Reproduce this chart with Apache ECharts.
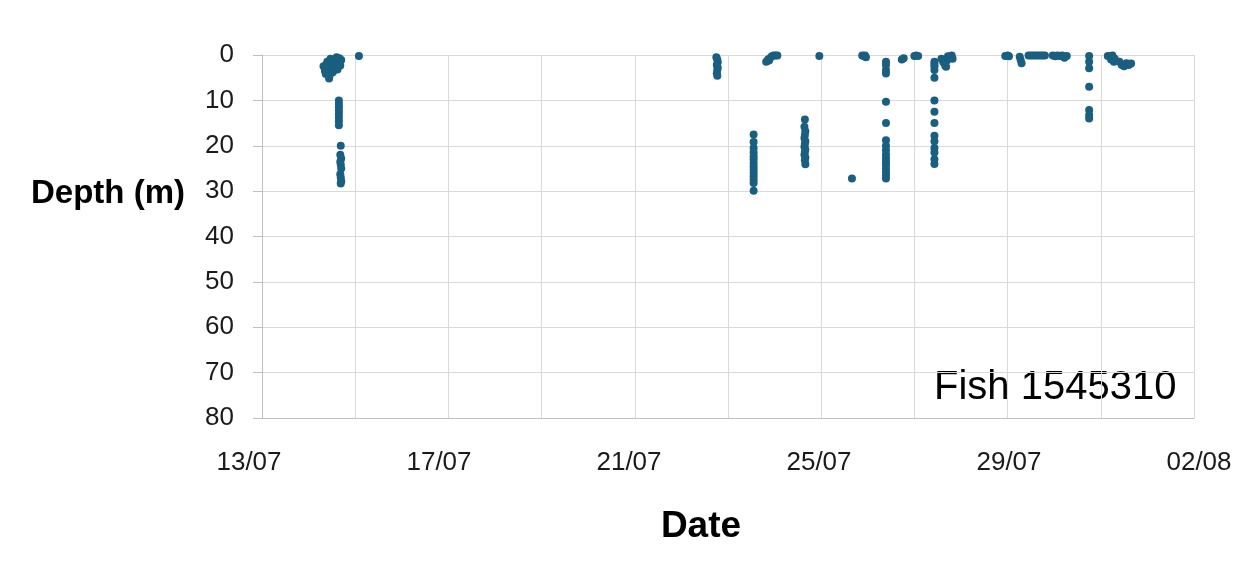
<!DOCTYPE html>
<html>
<head>
<meta charset="utf-8">
<script src="https://cdn.jsdelivr.net/npm/echarts@6/dist/echarts.min.js"></script>
<style>
html,body{margin:0;padding:0;background:#fff;}
#chart{width:1258px;height:572px;}
</style>
</head>
<body>
<div id="chart"></div>
<script>
// Day of July (fractional); 33 = 02/08
const startDay = 13;
const endDay = 33;
const xTickLabels = ['13/07', '17/07', '21/07', '25/07', '29/07', '02/08'];
const yTicks = [0, 10, 20, 30, 40, 50, 60, 70, 80];

const dayOfJuly = [
  14.32,14.35,14.37,14.40,14.42,14.44,14.47,14.50,14.52,14.55,14.58,14.60,14.62,14.64,14.66,14.68,14.70,14.45,14.38,
  15.08,
  14.65,14.65,14.65,14.65,14.65,14.65,14.65,14.65,
  14.69,14.68,14.70,14.68,14.69,14.70,14.68,14.69,14.70,14.69,
  22.75,22.77,22.78,22.76,22.78,22.77,22.76,22.77,
  23.82,23.86,23.90,23.94,23.98,24.02,24.06,23.88,
  24.96,
  25.88,25.92,25.96,25.94,
  23.55,23.55,23.55,23.55,23.55,23.55,23.55,23.55,23.55,23.55,23.55,23.55,23.55,23.55,
  24.65,24.64,24.66,24.65,24.64,24.66,24.65,24.64,24.66,24.65,24.64,24.66,24.65,24.66,
  25.66,
  26.39,26.39,26.39,26.39,26.39,26.39,26.39,26.39,26.39,26.39,26.39,26.39,26.39,26.39,26.39,26.39,26.39,
  26.77,26.73,27.00,27.04,27.08,
  27.43,27.43,27.43,27.43,27.43,27.43,27.43,27.43,27.43,27.43,27.43,27.43,27.43,27.43,
  27.58,27.62,27.66,27.70,27.72,27.76,27.80,27.82,27.68,
  28.95,29.00,29.03,
  29.26,29.28,29.30,
  29.45,29.50,29.55,29.60,29.65,29.70,29.75,29.80,
  29.97,30.02,30.07,30.12,30.17,30.22,30.27,
  30.75,30.75,30.75,30.75,30.75,30.75,30.75,
  31.15,31.20,31.25,31.30,31.28,31.22,31.40,31.45,31.50,31.55,31.60,31.65
];
const depth = [
  2.5,3.5,4.2,1.5,3.0,5.2,0.8,2.0,3.8,1.2,2.6,0.5,3.2,1.8,0.7,2.3,1.1,4.6,2.2,
  0.2,
  10.0,10.8,11.5,12.3,13.0,13.8,14.6,15.5,
  20.0,22.0,22.8,23.5,24.2,25.0,26.3,27.0,27.8,28.3,
  0.5,1.0,1.6,2.2,2.8,3.3,4.0,4.6,
  1.5,1.0,0.7,0.3,0.1,0.1,0.1,1.2,
  0.2,
  0.1,0.3,0.5,0.1,
  17.5,19.2,20.5,21.5,22.3,23.0,23.8,24.6,25.3,26.0,26.7,27.5,28.2,29.9,
  14.2,15.8,16.8,17.6,18.3,19.0,19.6,20.2,20.8,21.4,22.0,22.6,23.2,24.1,
  27.2,
  1.5,2.2,3.3,4.1,10.3,15.0,18.8,20.0,21.0,22.0,22.8,23.5,24.2,25.0,25.8,26.5,27.2,
  0.7,1.0,0.2,0.1,0.2,
  1.5,2.0,2.5,3.3,5.0,10.0,12.5,15.0,17.8,19.0,20.5,21.5,23.0,24.0,
  0.8,1.6,2.3,1.2,0.3,0.6,0.1,0.8,2.6,
  0.2,0.1,0.3,
  0.4,1.1,1.8,
  0.1,0.1,0.1,0.1,0.1,0.1,0.1,0.1,
  0.1,0.3,0.1,0.2,0.1,0.6,0.2,
  0.2,1.5,2.9,7.0,12.1,13.2,14.0,
  0.2,0.3,0.1,0.8,1.5,1.0,1.5,2.2,2.5,1.8,2.2,1.9
];

const points = dayOfJuly.map((d, i) => [d - startDay, depth[i]]);
const labelByOffset = {};
xTickLabels.forEach((t, i) => { labelByOffset[i * 4] = t; });

const chart = echarts.init(document.getElementById('chart'), null, {renderer: 'canvas'});
const font = 'Liberation Sans, Arial, sans-serif';
chart.setOption({
  animation: false,
  grid: [
    {left: 262, right: 64, top: 55, bottom: 154, containLabel: false},
    {left: 249, right: 59, top: 55, bottom: 154, containLabel: false}
  ],
  xAxis: [{
    type: 'value',
    gridIndex: 0,
    min: 0,
    max: endDay - startDay,
    interval: 2,
    axisLine: {show: true, onZero: false, lineStyle: {color: '#bfbfbf', width: 1}},
    axisTick: {show: false},
    splitLine: {show: true, lineStyle: {color: '#d9d9d9', width: 1}},
    axisLabel: {show: false}
  }, {
    type: 'value',
    gridIndex: 1,
    min: 0,
    max: endDay - startDay,
    interval: 4,
    axisLine: {show: false},
    axisTick: {show: false},
    splitLine: {show: false},
    axisLabel: {
      color: '#1a1a1a', fontSize: 26, fontFamily: font, margin: 32,
      formatter: v => labelByOffset[v] !== undefined ? labelByOffset[v] : ''
    }
  }],
  yAxis: [{
    type: 'value',
    gridIndex: 0,
    inverse: true,
    min: yTicks[0],
    max: yTicks[yTicks.length - 1],
    interval: 10,
    axisLine: {show: true, lineStyle: {color: '#bfbfbf', width: 1}},
    axisTick: {show: true, length: 9, lineStyle: {color: '#bfbfbf'}},
    splitLine: {show: true, lineStyle: {color: '#d9d9d9', width: 1}},
    axisLabel: {color: '#1a1a1a', fontSize: 26, fontFamily: font, margin: 28}
  }, {
    type: 'value',
    gridIndex: 1,
    show: false,
    min: 0,
    max: 80
  }],
  graphic: [
    {type: 'text', x: 185, y: 194, style: {text: 'Depth (m)', fill: '#000', font: 'bold 33px ' + font, textAlign: 'right', textVerticalAlign: 'middle'}},
    {type: 'text', x: 701, y: 527, style: {text: 'Date', fill: '#000', font: 'bold 37px ' + font, textAlign: 'center', textVerticalAlign: 'middle'}},
    {type: 'text', x: 934, y: 388, style: {text: 'Fish 1545310', fill: '#000', font: '40px ' + font, textAlign: 'left', textVerticalAlign: 'middle'}}
  ],
  series: [{
    type: 'scatter',
    xAxisIndex: 0,
    yAxisIndex: 0,
    data: points,
    symbol: 'circle',
    symbolSize: 8,
    itemStyle: {color: '#1a5e80', opacity: 1},
    clip: false
  }]
});
</script>
</body>
</html>
